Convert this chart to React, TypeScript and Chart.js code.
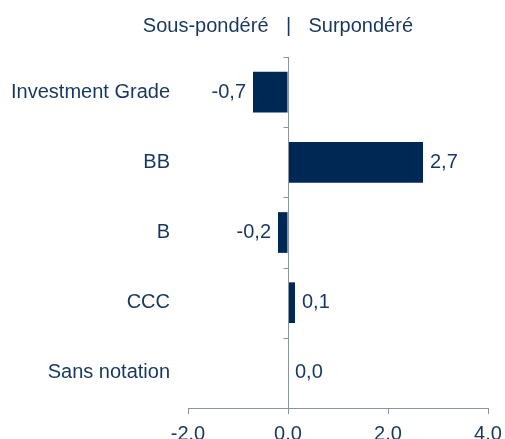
import React, { useEffect, useRef } from "react";
import { Chart, registerables } from "chart.js";

Chart.register(...registerables);

const categories = ["Investment Grade", "BB", "B", "CCC", "Sans notation"];
const values = [-0.7, 2.7, -0.2, 0.14, 0.0];
const xTicks = [-2, 0, 2, 4];
const titleLeft = "Sous-pondéré";
const titleRight = "Surpondéré";

const NAVY = "#002855";
const TEXT = "#17375E";
const AXIS = "#8a95a3";
const FONT = "'Liberation Sans', Arial, sans-serif";

const fmt = (v: number) => v.toFixed(1).replace(".", ",");

const decorPlugin = {
  id: "decor",
  afterDatasetsDraw(chart: any) {
    const { ctx, chartArea } = chart;
    const xs = chart.scales.x;
    const ys = chart.scales.y;
    const x0 = Math.round(xs.getPixelForValue(0)) + 0.5;
    ctx.save();
    // vertical axis at zero
    ctx.strokeStyle = AXIS;
    ctx.lineWidth = 1;
    ctx.beginPath();
    ctx.moveTo(x0, chartArea.top);
    ctx.lineTo(x0, chartArea.bottom);
    for (let i = 0; i <= categories.length; i++) {
      const y = Math.round(ys.getPixelForValue(i - 0.5)) + 0.5;
      ctx.moveTo(x0 - 5, y);
      ctx.lineTo(x0, y);
    }
    ctx.stroke();

    // data labels
    ctx.fillStyle = TEXT;
    ctx.font = `20px ${FONT}`;
    ctx.textBaseline = "middle";
    const meta = chart.getDatasetMeta(0);
    meta.data.forEach((bar: any, i: number) => {
      const v = values[i];
      if (v < 0) {
        ctx.textAlign = "right";
        ctx.fillText(fmt(v), bar.x - 7, bar.y);
      } else {
        ctx.textAlign = "left";
        ctx.fillText(fmt(v), bar.x + 7, bar.y);
      }
    });

    // title
    const ty = 26;
    ctx.textAlign = "center";
    ctx.fillText("|", x0, ty);
    ctx.textAlign = "right";
    ctx.fillText(titleLeft, x0 - 20, ty);
    ctx.textAlign = "left";
    ctx.fillText(titleRight, x0 + 20, ty);
    ctx.restore();
  },
};

export default function App() {
  const ref = useRef<HTMLCanvasElement>(null);
  useEffect(() => {
    if (!ref.current) return;
    const chart = new Chart(ref.current, {
      type: "bar",
      data: {
        labels: categories,
        datasets: [
          {
            data: values,
            backgroundColor: NAVY,
            borderWidth: 0,
            categoryPercentage: 1,
            barPercentage: 0.58,
          },
        ],
      },
      options: {
        indexAxis: "y",
        animation: false,
        responsive: true,
        maintainAspectRatio: false,
        layout: { padding: { top: 57, right: 17, left: 0, bottom: 0 } },
        plugins: {
          legend: { display: false },
          tooltip: { enabled: false },
          title: { display: false },
        },
        scales: {
          x: {
            min: -2,
            max: 4,
            afterBuildTicks: (scale: any) => {
              scale.ticks = xTicks.map((v) => ({ value: v }));
            },
            afterFit: (scale: any) => {
              scale.height = 31;
              scale.paddingLeft = 0;
              scale.paddingRight = 0;
            },
            grid: {
              drawOnChartArea: false,
              drawTicks: true,
              tickLength: 6,
              color: AXIS,
            },
            border: { display: true, color: AXIS, width: 1 },
            ticks: {
              color: TEXT,
              font: { family: FONT, size: 20 },
              padding: 8,
              maxRotation: 0,
              autoSkip: false,
              callback: (v: any) => Number(v).toFixed(1),
            },
          },
          y: {
            afterFit: (scale: any) => {
              scale.width = 188;
            },
            grid: { display: false, drawTicks: false },
            border: { display: false },
            ticks: {
              color: TEXT,
              font: { family: FONT, size: 20 },
              padding: 18,
              autoSkip: false,
            },
          },
        },
      },
      plugins: [decorPlugin],
    });
    return () => chart.destroy();
  }, []);
  return (
    <div style={{ position: "fixed", left: 0, top: 0, width: 505, height: 439, background: "#fff" }}>
      <canvas ref={ref} />
    </div>
  );
}
